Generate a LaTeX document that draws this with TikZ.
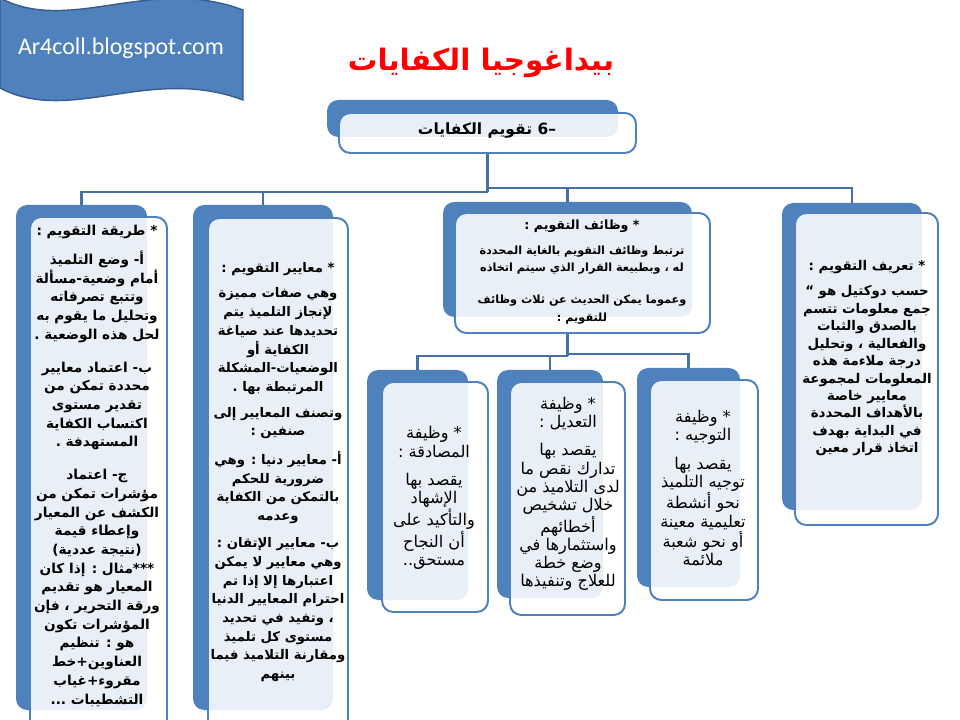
\documentclass[tikz,border=0pt]{standalone}
\usepackage{fontspec}
\setmainfont{DejaVu Sans}
\newfontfamily\arabicfont[Script=Arabic]{DejaVu Sans}
\newfontfamily\blogfont{Carlito}
\TeXXeTstate=1
\usetikzlibrary{positioning,calc,fit}
\definecolor{smblue}{RGB}{79,129,189}
\definecolor{smline}{RGB}{70,114,168}
\definecolor{smedge}{RGB}{56,93,138}
\definecolor{titlered}{RGB}{255,0,0}
\newcommand{\ar}[1]{\beginR #1\endR}

\tikzset{
  backbox/.style={fill=smblue,draw=none,rounded corners=8pt,inner sep=0pt},
  frontbox/.style={draw=smblue,line width=1.4pt,fill=white,fill opacity=0.88,
                   rounded corners=8pt,inner sep=0pt},
  boldtext/.style={align=center,inner sep=0pt,text=black,
                   font=\arabicfont\bfseries\fontsize{9.7}{13.3}\selectfont},
  thintext/.style={align=center,inner sep=0pt,text=black,
                   font=\arabicfont\fontsize{11.5}{13}\selectfont},
  conn/.style={draw=smline,line width=1.8pt}
}

\begin{document}
\begin{tikzpicture}[x=0.025cm,y=-0.025cm]
  \useasboundingbox (0,0) rectangle (960,720);
  \clip (0,0) rectangle (960,720);

  %% Wavy banner top left
  \draw[fill=smblue,draw=smedge,line width=1pt]
        (0,-2) .. controls (70,35) and (150,-25) .. (243,10)
        -- (243,100) .. controls (150,65) and (70,125) .. (0,88) -- cycle;
  \node[text=white,font=\blogfont\fontsize{17}{20}\selectfont] (blog) at (121,48)
        {Ar4coll.blogspot.com};

  %% Title
  \node[text=titlered,font=\arabicfont\bfseries\fontsize{21}{25}\selectfont]
        (title) at (481,63) {\ar{بيداغوجيا الكفايات}};

  %% Top box
  \node[backbox,fit={(327,100) (618,137)}] (bTop) {};
  \node[frontbox,fit={(339,113) (636,153)}] (fTop) {};
  \node[boldtext,font=\arabicfont\bfseries\fontsize{11}{13}\selectfont]
        (tTop) at (487,131) {\ar{\beginL–6\endL{} تقويم الكفايات}};

  %% Second level boxes
  \node[backbox,fit={(16,205) (147,710)}] (bA) {};
  \node[backbox,fit={(193,205) (333,710)}] (bB) {};
  \node[backbox,fit={(443,202) (692,317)}] (bC) {};
  \node[backbox,fit={(782,203) (922,510)}] (bD) {};

  %% Connectors from top box
  \coordinate (busL) at ($(fTop.south)+(0,38)$);
  \coordinate (busR) at ($(fTop.south)+(0,34)$);
  \draw[conn] (fTop.south) -- (busL);
  \draw[conn] (busL) -| (bA.north);
  \draw[conn] (busL) -| (bB.north);
  \draw[conn] (busR) -| (bC.north);
  \draw[conn] (busR) -| (bD.north);

  \node[frontbox,fit={(30,217) (167,745)}] (fA) {};
  \node[frontbox,fit={(208,218) (348,745)}] (fB) {};
  \node[frontbox,fit={(455,213) (710,333)}] (fC) {};
  \node[frontbox,fit={(795,213) (938,525)}] (fD) {};

  %% Third level boxes
  \node[backbox,fit={(367,370) (468,600)}] (bE) {};
  \node[backbox,fit={(497,370) (603,598)}] (bF) {};
  \node[backbox,fit={(637,368) (740,587)}] (bG) {};

  %% Connectors from the functions box
  \coordinate (cDrop) at (bC.south |- fC.south);
  \coordinate (busL2) at ($(cDrop)+(0,22)$);
  \coordinate (busR2) at ($(cDrop)+(0,20)$);
  \draw[conn] (cDrop) -- (busL2);
  \draw[conn] (busL2) -| (bE.north);
  \draw[conn] (busL2) -| (bF.north);
  \draw[conn] (busR2) -| (bG.north);

  \node[frontbox,fit={(382,382) (488,612)}] (fE) {};
  \node[frontbox,fit={(510,382) (625,615)}] (fF) {};
  \node[frontbox,fit={(650,380) (758,600)}] (fG) {};

  %% Texts
  \node[boldtext] (tA) at (97,466) {%
    \ar{* طريقة التقويم :}\\[7pt]
    \ar{أ- وضع التلميذ}\\
    \ar{أمام وضعية-مسألة}\\
    \ar{وتتبع تصرفاته}\\
    \ar{وتحليل ما يقوم به}\\
    \ar{لحل هذه الوضعية .}\\[10pt]
    \ar{ب- اعتماد معايير}\\
    \ar{محددة تمكن من}\\
    \ar{تقدير مستوى}\\
    \ar{اكتساب الكفاية}\\
    \ar{المستهدفة .}\\[10pt]
    \ar{ج- اعتماد}\\
    \ar{مؤشرات تمكن من}\\
    \ar{الكشف عن المعيار}\\
    \ar{وإعطاء قيمة}\\
    \ar{(نتيجة عددية)}\\
    \ar{***مثال : إذا كان}\\
    \ar{المعيار هو تقديم}\\
    \ar{ورقة التحرير ، فإن}\\
    \ar{المؤشرات تكون}\\
    \ar{هو : تنظيم}\\
    \ar{العناوين+خط}\\
    \ar{مقروء+غياب}\\
    \ar{التشطيبات ...}};

  \node[boldtext,font=\arabicfont\bfseries\fontsize{9.4}{13.3}\selectfont]
        (tB) at (278,472) {%
    \ar{* معايير التقويم :}\\[5pt]
    \ar{وهي صفات مميزة}\\
    \ar{لإنجاز التلميذ يتم}\\
    \ar{تحديدها عند صياغة}\\
    \ar{الكفاية أو}\\
    \ar{الوضعيات-المشكلة}\\
    \ar{المرتبطة بها .}\\[5pt]
    \ar{وتصنف المعايير إلى}\\
    \ar{صنفين :}\\[7pt]
    \ar{أ- معايير دنيا : وهي}\\
    \ar{ضرورية للحكم}\\
    \ar{بالتمكن من الكفاية}\\
    \ar{وعدمه}\\[6pt]
    \ar{ب- معايير الإتقان :}\\
    \ar{وهي معايير لا يمكن}\\
    \ar{اعتبارها إلا إذا تم}\\
    \ar{احترام المعايير الدنيا}\\
    \ar{، وتفيد في تحديد}\\
    \ar{مستوى كل تلميذ}\\
    \ar{ومقارنة التلاميذ فيما}\\
    \ar{بينهم}};

  \node[boldtext,font=\arabicfont\bfseries\fontsize{8}{12.5}\selectfont]
        (tC) at (582,272) {%
    {\fontsize{9}{12.5}\selectfont\ar{* وظائف التقويم :}}\\[5pt]
    \ar{ترتبط وظائف التقويم بالغاية المحددة}\\
    \ar{له ، وبطبيعة القرار الذي سيتم اتخاذه}\\[10pt]
    \ar{وعموما يمكن الحديث عن ثلاث وظائف}\\
    \ar{للتقويم :}};

  \node[boldtext,font=\arabicfont\bfseries\fontsize{9.5}{12.4}\selectfont]
        (tD) at (867,358) {%
    \ar{* تعريف التقويم :}\\[6pt]
    \ar{حسب دوكتيل هو “}\\
    \ar{جمع معلومات تتسم}\\
    \ar{بالصدق والثبات}\\
    \ar{والفعالية ، وتحليل}\\
    \ar{درجة ملاءمة هذه}\\
    \ar{المعلومات لمجموعة}\\
    \ar{معايير خاصة}\\
    \ar{بالأهداف المحددة}\\
    \ar{في البداية بهدف}\\
    \ar{اتخاذ قرار معين}};

  \node[thintext] (tE) at (434,498) {%
    \ar{* وظيفة}\\
    \ar{المصادقة :}\\[7pt]
    \ar{يقصد بها}\\
    \ar{الإشهاد}\\
    \ar{والتأكيد على}\\
    \ar{أن النجاح}\\
    \ar{مستحق..}};

  \node[thintext] (tF) at (568,494) {%
    \ar{* وظيفة}\\
    \ar{التعديل :}\\[7pt]
    \ar{يقصد بها}\\
    \ar{تدارك نقص ما}\\
    \ar{لدى التلاميذ من}\\
    \ar{خلال تشخيص}\\
    \ar{أخطائهم}\\
    \ar{واستثمارها في}\\
    \ar{وضع خطة}\\
    \ar{للعلاج وتنفيذها}};

  \node[thintext] (tG) at (703,488) {%
    \ar{* وظيفة}\\
    \ar{التوجيه :}\\[7pt]
    \ar{يقصد بها}\\
    \ar{توجيه التلميذ}\\
    \ar{نحو أنشطة}\\
    \ar{تعليمية معينة}\\
    \ar{أو نحو شعبة}\\
    \ar{ملائمة}};
\end{tikzpicture}
\end{document}
